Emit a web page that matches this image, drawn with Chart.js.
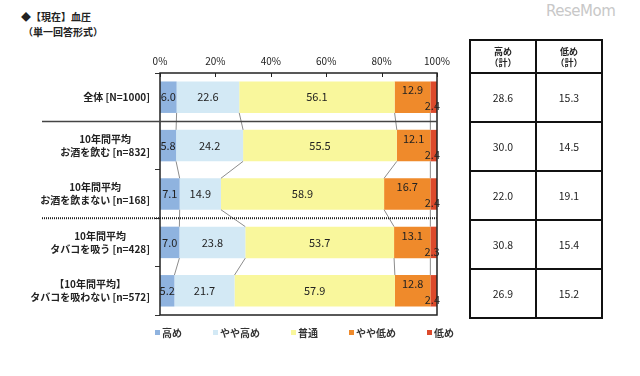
<!DOCTYPE html>
<html>
<head>
<meta charset="utf-8">
<script src="https://cdn.jsdelivr.net/npm/chart.js@4.4.0/dist/chart.umd.min.js"></script>
<style>
  body { margin: 0; background: #fff; font-family: "Noto Sans CJK JP", sans-serif; color: #222; }
  #wrap { position: relative; width: 640px; height: 376px; overflow: hidden; }
  #c { position: absolute; left: 0; top: 0; }
  #title { position: absolute; left: 21px; top: 9px; font-size: 10px; font-weight: bold; line-height: 15px; }
  #logo { position: absolute; left: 546px; top: 2px; font-size: 15px; color: #c8c8c8; font-family: "DejaVu Sans", sans-serif; letter-spacing: -0.5px; }
  #tbl { position: absolute; left: 469px; top: 39px; border-collapse: collapse; }
  #tbl td, #tbl th { border: 2px solid #111; width: 64px; text-align: center; font-size: 10.5px; font-weight: normal; padding: 0; }
  #tbl th { height: 31px; font-size: 9px; font-weight: bold; line-height: 11px; }
  #tbl td { height: 47px; }
  #legend { position: absolute; left: 155px; top: 325px; display: flex; font-size: 10px; color: #333; font-weight: bold; }
  #legend span.item { display: flex; align-items: center; margin-right: 31px; }
  #legend span.box { width: 5px; height: 5px; margin-right: 2px; display: inline-block; }
</style>
</head>
<body>
<div id="wrap">
  <div id="title">◆【現在】血圧<br><span style="margin-left:2px">（単一回答形式）</span></div>
  <div id="logo">ReseMom</div>
  <canvas id="c" width="600" height="376"></canvas>
  <table id="tbl"></table>
  <div id="legend"></div>
</div>
<script>
// 血圧 (現在) の回答割合
const categories = [
  ["全体 [N=1000]"],
  ["10年間平均", "お酒を飲む [n=832]"],
  ["10年間平均", "お酒を飲まない [n=168]"],
  ["10年間平均", "タバコを吸う [n=428]"],
  ["【10年間平均】", "タバコを吸わない [n=572]"]
];
const seriesNames = ["高め", "やや高め", "普通", "やや低め", "低め"];
const takame    = [6.0, 5.8, 7.1, 7.0, 5.2];
const yayaTakame = [22.6, 24.2, 14.9, 23.8, 21.7];
const futsu     = [56.1, 55.5, 58.9, 53.7, 57.9];
const yayaHikume = [12.9, 12.1, 16.7, 13.1, 12.8];
const hikume    = [2.4, 2.4, 2.4, 2.3, 2.4];
const highTotal = [28.6, 30.0, 22.0, 30.8, 26.9];
const lowTotal  = [15.3, 14.5, 19.1, 15.4, 15.2];
const xTicks = [0, 20, 40, 60, 80, 100];

const colors = ["#8fb3df", "#d3e9f5", "#f9f79c", "#ef8a2b", "#dc4a2c"];
const font = '"Noto Sans CJK JP", sans-serif';

// table
const tbl = document.getElementById("tbl");
let html = "<tr><th>高め<br>（計）</th><th>低め<br>（計）</th></tr>";
for (let i = 0; i < highTotal.length; i++) {
  html += `<tr><td>${highTotal[i].toFixed(1)}</td><td>${lowTotal[i].toFixed(1)}</td></tr>`;
}
tbl.innerHTML = html;

// legend
const lg = document.getElementById("legend");
seriesNames.forEach((n, i) => {
  lg.innerHTML += `<span class="item"><span class="box" style="background:${colors[i]}"></span>${n}</span>`;
});

const extras = {
  id: "extras",
  afterDatasetsDraw(chart) {
    const { ctx, chartArea: a, scales: { x, y } } = chart;
    ctx.save();

    // connector lines between bars
    ctx.strokeStyle = "#8c8c8c";
    ctx.lineWidth = 1;
    for (let d = 0; d < 4; d++) {
      const meta = chart.getDatasetMeta(d);
      for (let i = 0; i < categories.length - 1; i++) {
        const b1 = meta.data[i].getProps(["x", "y", "height"], true);
        const b2 = meta.data[i + 1].getProps(["x", "y", "height"], true);
        ctx.beginPath();
        ctx.moveTo(b1.x, b1.y + b1.height / 2);
        ctx.lineTo(b2.x, b2.y - b2.height / 2);
        ctx.stroke();
      }
    }

    // frame
    ctx.strokeStyle = "#222";
    ctx.lineWidth = 1.5;
    ctx.strokeRect(a.left, a.top, a.right - a.left, a.bottom - a.top);

    // inner tick marks at the top
    ctx.lineWidth = 1;
    xTicks.forEach(v => {
      const px = Math.round(x.getPixelForValue(v)) + 0.5;
      ctx.beginPath();
      ctx.moveTo(px, a.top);
      ctx.lineTo(px, a.top + 4);
      ctx.stroke();
    });

    // separators
    const sep1 = (y.getPixelForValue(0) + y.getPixelForValue(1)) / 2;
    const sep2 = (y.getPixelForValue(2) + y.getPixelForValue(3)) / 2;
    ctx.strokeStyle = "#444";
    ctx.lineWidth = 1.5;
    ctx.beginPath();
    ctx.moveTo(42, sep1);
    ctx.lineTo(a.right, sep1);
    ctx.stroke();
    ctx.strokeStyle = "#222";
    ctx.lineWidth = 2;
    ctx.setLineDash([1, 1]);
    ctx.beginPath();
    ctx.moveTo(42, sep2);
    ctx.lineTo(a.right, sep2);
    ctx.stroke();
    ctx.setLineDash([]);

    // category labels
    ctx.fillStyle = "#222";
    ctx.font = "bold 10px " + font;
    ctx.textBaseline = "middle";
    ctx.textAlign = "center";
    categories.forEach((lines, i) => {
      const cy = y.getPixelForValue(i);
      const w = Math.max(...lines.map(l => ctx.measureText(l).width));
      const cx = 150 - w / 2;
      const lh = 13;
      lines.forEach((l, k) => {
        ctx.fillText(l, cx, cy + (k - (lines.length - 1) / 2) * lh);
      });
    });

    // value labels
    ctx.font = "11px " + font;
    chart.data.datasets.forEach((ds, d) => {
      const meta = chart.getDatasetMeta(d);
      meta.data.forEach((bar, i) => {
        const p = bar.getProps(["x", "y", "base"], true);
        const txt = ds.data[i].toFixed(1);
        if (d === 4) {
          ctx.textAlign = "right";
          ctx.fillText(txt, p.x + 3, p.y + 9);
        } else if (d === 3) {
          ctx.textAlign = "center";
          ctx.fillText(txt, (p.x + p.base) / 2, p.y - 7);
        } else {
          ctx.textAlign = "center";
          ctx.fillText(txt, (p.x + p.base) / 2, p.y);
        }
      });
    });
    ctx.restore();
  }
};

const series = [takame, yayaTakame, futsu, yayaHikume, hikume];
new Chart(document.getElementById("c"), {
  type: "bar",
  data: {
    labels: categories,
    datasets: series.map((s, i) => ({
      label: seriesNames[i],
      data: s,
      backgroundColor: colors[i],
      borderWidth: 0,
      barPercentage: 0.65,
      categoryPercentage: 1
    }))
  },
  options: {
    indexAxis: "y",
    responsive: false,
    animation: false,
    layout: { padding: { top: 49, right: 163, bottom: 61, left: 0 } },
    scales: {
      x: {
        position: "top",
        stacked: true,
        min: 0,
        max: 100,
        ticks: { stepSize: 20, callback: v => v + "%", padding: 6, color: "#222", font: { size: 10, family: font } },
        grid: { display: false, drawTicks: false },
        border: { display: false }
      },
      y: {
        stacked: true,
        ticks: { display: false },
        grid: { drawOnChartArea: false, drawTicks: true, tickLength: 5, color: "#333", offset: true },
        border: { display: false },
        afterFit(s) { s.width = 160; }
      }
    },
    plugins: { legend: { display: false }, tooltip: { enabled: false } }
  },
  plugins: [extras]
});
</script>
</body>
</html>
